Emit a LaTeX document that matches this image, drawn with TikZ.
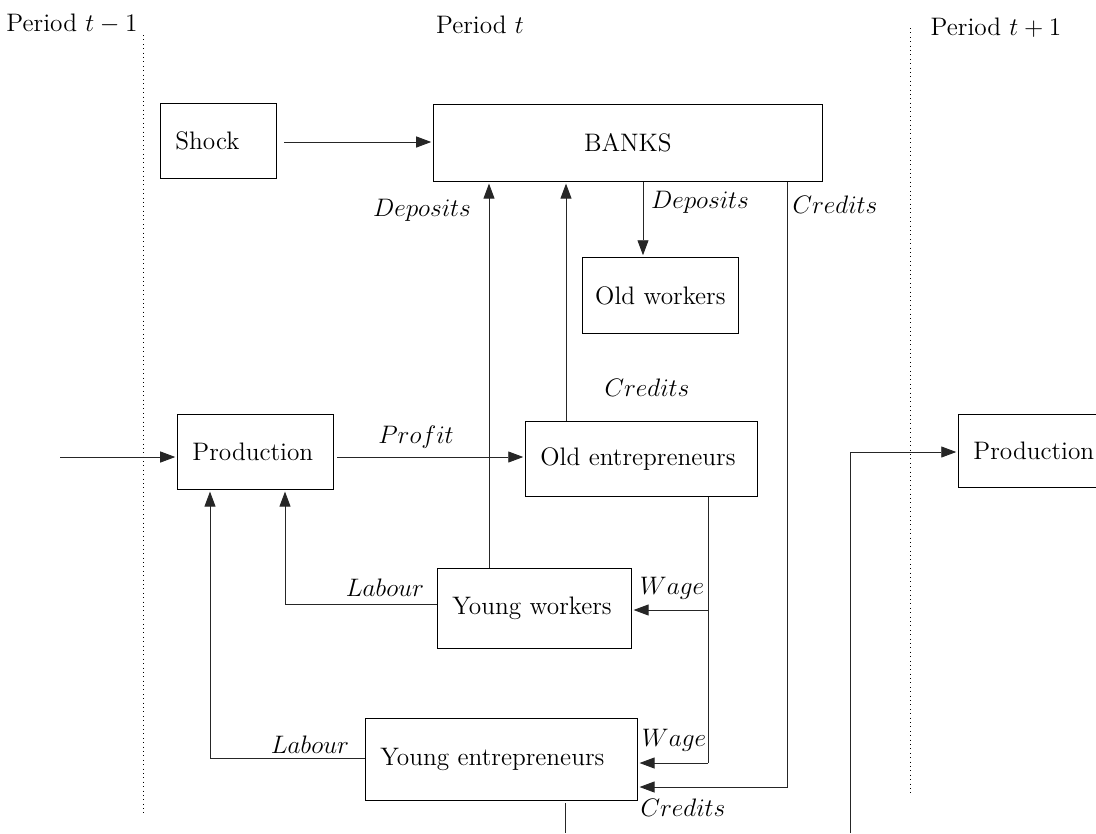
\documentclass[tikz,border=0pt]{standalone}
\usepackage{amsmath}
\usepackage{tikz}
\usetikzlibrary{arrows.meta,calc,positioning}

\begin{document}
\begin{tikzpicture}[x=0.02cm,y=-0.02cm,font=\Large,line width=0.5pt,
    box/.style={draw,anchor=north west,inner xsep=0.3cm,inner ysep=0pt,align=left,minimum height=1.5cm},
    arr/.style={draw=black!85,-{Triangle[length=3mm,width=2.2mm]},shorten >=1pt},
    lab/.style={inner sep=0pt}]
\useasboundingbox (0,0) rectangle (1096,833);
% the three periods
\node (per0) at (72,24) {Period $t-1$};
\node (per1) at (480,25) {Period $t$};
\node (per2) at (996,28) {Period $t+1$};
\draw[dotted] (143,35) -- (143,815);
\draw[dotted] (910,28) -- (910,795);
% agents
\node[box,text width=1.72cm] (shock) at (160,103) {Shock};
\node[box,text width=7.18cm,align=center,minimum height=1.54cm] (banks) at (433,104) {BANKS};
\node[box,inner xsep=0.2cm,text width=2.72cm,align=center,minimum height=1.52cm] (oldw) at (582,257) {Old workers};
\node[box,text width=2.52cm] (prod) at (177,414) {Production};
\node[box,text width=4.04cm] (olde) at (525,421) {Old entrepreneurs};
\node[box,text width=3.28cm,minimum height=1.6cm] (youngw) at (437,568) {Young workers};
\node[box,text width=4.84cm,minimum height=1.64cm] (younge) at (365,718) {Young entrepreneurs};
\node[box,text width=2.52cm,minimum height=1.46cm] (prodn) at (958,414) {Production};
% turning points of the flows
\coordinate (shk) at (284,142);
\coordinate (prf) at (337,457);
\coordinate (dep) at (489,0);
\coordinate (cre) at (566,0);
\coordinate (old) at (643,0);
\coordinate (bcr) at (787,787);
\coordinate (in) at (60,457);
\coordinate (wyw) at (708,610);
\coordinate (wye) at (708,763);
\coordinate (lyw) at (285,604);
\coordinate (lye) at (210,758);
\coordinate (out) at (565,833);
\coordinate (yeo) at (565,803);
\coordinate (nxt) at (850,833);
\coordinate (nxp) at (850,452);
% flows
\draw[arr] (shk) -- (shk -| banks.west);
\draw[arr] (youngw.north -| dep) -- (banks.south -| dep);
\draw[arr] (olde.north -| cre) -- (banks.south -| cre);
\draw[arr] (banks.south -| old) -- (oldw.north -| old);
\draw[arr] (banks.south -| bcr) -- (bcr) -- (bcr -| younge.east);
\draw[arr] (in) -- (in -| prod.west);
\draw[arr] (prf) -- (prf -| olde.west);
\draw[draw=black!85] (olde.south -| wye) -- (wye);
\draw[arr] (wye) -- (wye -| younge.east);
\draw[arr] (wyw) -- (wyw -| youngw.east);
\draw[arr] (youngw.west |- lyw) -- (lyw) -- (lyw |- prod.south);
\draw[arr] (younge.west |- lye) -- (lye) -- (lye |- prod.south);
\draw[draw=black!85] (yeo) -- (out);
\draw[arr] (nxt) -- (nxp) -- (nxp -| prodn.west);
% labels on the flows
\node[lab] (ldep1) at (422,210) {$Deposits$};
\node[lab] (ldep2) at (700,202) {$Deposits$};
\node[lab] (lcr1) at (835,205) {$Credits$};
\node[lab] (lcr2) at (647,388) {$Credits$};
\node[lab] (lprof) at (416,437) {$Profit$};
\node[lab] (llab1) at (385,588) {$Labour$};
\node[lab] (llab2) at (310,745) {$Labour$};
\node[lab] (lw1) at (672,588) {$Wage$};
\node[lab] (lw2) at (674,740) {$Wage$};
\node[lab] (lcr3) at (683,808) {$Credits$};
\end{tikzpicture}
\end{document}
